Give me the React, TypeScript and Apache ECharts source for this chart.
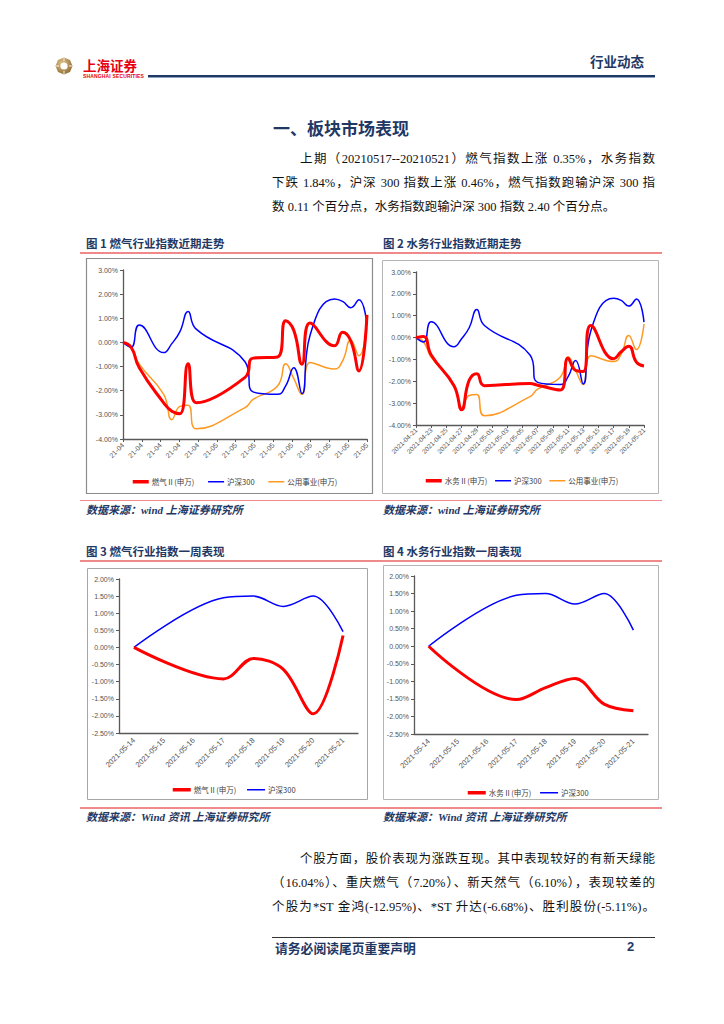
import React, { useEffect, useRef } from "react";
import * as echarts from "echarts";

// ---------- DATA ----------
// trading dates for figures 1 & 2
const longDates = [
  "2021-04-21", "2021-04-22", "2021-04-23", "2021-04-26", "2021-04-27", "2021-04-28", "2021-04-29", "2021-04-30",
  "2021-05-06", "2021-05-07", "2021-05-10", "2021-05-11", "2021-05-12", "2021-05-13", "2021-05-14",
  "2021-05-17", "2021-05-18", "2021-05-19", "2021-05-20", "2021-05-21",
];
const hs300Long = [0, -0.2, 0.72, -0.42, -0.05, 0.45, 1.28, 0.55, -0.8, -2.05, -2.15, -1.8, -1.05, -2.12, 0.3, 1.8, 1.7, 1.44, 1.77, 0.71];
const gasLong = [0, -0.2, -1.05, -2.5, -2.85, -2.95, -0.88, -2.5, -1.45, -0.65, -0.6, 0.9, 0.5, -0.9, 0.8, -0.14, 0.42, 0.07, -1.18, 1.14];
const utilLong = [0, -0.2, -0.9, -2.15, -3.2, -2.65, -2.6, -3.58, -2.7, -2.36, -1.8, -0.88, -1.5, -2.15, -0.83, -1.1, -0.76, 0.1, -0.55, 0.62];
const waterLong = [0, 0.05, -0.8, -2.2, -3.3, -1.95, -1.65, -2.2, -2.1, -2.18, -2.4, -0.95, -1.5, -1.55, 0.55, -0.97, -0.65, -0.4, -1.12, -1.3];

// figures 3 & 4
const weekDates = ["2021-05-14", "2021-05-15", "2021-05-16", "2021-05-17", "2021-05-18", "2021-05-19", "2021-05-20", "2021-05-21"];
const hs300Week = [0, null, null, 1.45, 1.5, 1.2, 1.5, 0.46];
const gasWeek = [0, null, null, -0.92, -0.32, -0.64, -1.94, 0.35];
const waterWeek = [0, null, null, -1.52, -1.18, -0.92, -1.65, -1.84];

const NAME_GAS = "燃气Ⅱ(申万)";
const NAME_WATER = "水务Ⅱ(申万)";
const NAME_HS = "沪深300";
const NAME_UTIL = "公用事业(申万)";

const RED = "#ff0000";
const BLUE = "#0000ff";
const ORANGE = "#ff9922";
const NAVY = "#1f3864";

// ---------- helpers ----------
const DAY = 86400000;
const t0 = Date.parse(longDates[0]);
const dayOffset = (d: string) => Math.round((Date.parse(d) - t0) / DAY);
const longX = longDates.map(dayOffset);
const pairs = (vals: number[]) => longX.map((x, i) => [x, vals[i]]);
const pad = (n: number) => (n < 10 ? "0" : "") + n;
const offsetToDate = (v: number) => new Date(t0 + Math.round(v) * DAY);
const fmtShort = (v: number) => {
  const d = offsetToDate(v);
  return String(d.getUTCFullYear()).slice(2) + "-" + pad(d.getUTCMonth() + 1);
};
const fmtLong = (v: number) => {
  const d = offsetToDate(v);
  return d.getUTCFullYear() + "-" + pad(d.getUTCMonth() + 1) + "-" + pad(d.getUTCDate());
};
const pct = (v: number) => v.toFixed(2) + "%";

const AXIS_FONT = "'Liberation Sans', Arial, sans-serif";
const axisLine = { lineStyle: { color: "#595959", width: 1.3 } };
const axisTick = { length: 3, lineStyle: { color: "#595959", width: 1 } };
const labelStyle = { fontSize: 7, color: "#555", fontFamily: AXIS_FONT };

function buildOption() {
  const grids = [
    { left: 123, top: 270, width: 244, height: 169 },
    { left: 416, top: 272, width: 228, height: 153 },
    { left: 119, top: 579, width: 239, height: 154 },
    { left: 414, top: 576, width: 234, height: 158 },
  ];
  const xAxis = [
    {
      gridIndex: 0, type: "value", min: 0, max: 30, interval: 30 / 13,
      axisLine: { ...axisLine, onZero: false }, axisTick, splitLine: { show: false },
      axisLabel: { ...labelStyle, rotate: 45, margin: 5, formatter: fmtShort, showMaxLabel: true },
    },
    {
      gridIndex: 1, type: "value", min: 0, max: 30, interval: 2,
      axisLine: { ...axisLine, onZero: false }, axisTick, splitLine: { show: false },
      axisLabel: { ...labelStyle, fontSize: 6.5, rotate: 45, margin: 4, formatter: fmtLong },
    },
    {
      gridIndex: 2, type: "category", data: weekDates, boundaryGap: true,
      axisLine: { ...axisLine, onZero: false }, axisTick, splitLine: { show: false },
      axisLabel: { ...labelStyle, fontSize: 7.5, rotate: 45, margin: 6, interval: 0 },
    },
    {
      gridIndex: 3, type: "category", data: weekDates, boundaryGap: true,
      axisLine: { ...axisLine, onZero: false }, axisTick, splitLine: { show: false },
      axisLabel: { ...labelStyle, fontSize: 7.5, rotate: 45, margin: 6, interval: 0 },
    },
  ];
  const yBase = { type: "value", axisLine: { ...axisLine, show: true }, axisTick: { ...axisTick, show: true }, splitLine: { show: false } };
  const yAxis = [
    { ...yBase, gridIndex: 0, min: -4, max: 3, interval: 1, axisLabel: { ...labelStyle, margin: 5, formatter: pct } },
    { ...yBase, gridIndex: 1, min: -4, max: 3, interval: 1, axisLabel: { ...labelStyle, margin: 5, formatter: pct } },
    { ...yBase, gridIndex: 2, min: -2.5, max: 2, interval: 0.5, axisLabel: { ...labelStyle, margin: 5, formatter: pct } },
    { ...yBase, gridIndex: 3, min: -2.5, max: 2, interval: 0.5, axisLabel: { ...labelStyle, margin: 5, formatter: pct } },
  ];
  const line = (name: string, xi: number, data: any[], color: string, width: number, extra: any = {}) => ({
    type: "line", name, xAxisIndex: xi, yAxisIndex: xi, data, smooth: true, symbol: "none",
    lineStyle: { color, width }, itemStyle: { color }, ...extra,
  });
  const wk = { connectNulls: true, smooth: 0.35 };
  const series = [
    line(NAME_UTIL, 0, pairs(utilLong), ORANGE, 1.5),
    line(NAME_HS, 0, pairs(hs300Long), BLUE, 1.5),
    line(NAME_GAS, 0, pairs(gasLong), RED, 3),
    line(NAME_UTIL, 1, pairs(utilLong), ORANGE, 1.5),
    line(NAME_HS, 1, pairs(hs300Long), BLUE, 1.5),
    line(NAME_WATER, 1, pairs(waterLong), RED, 3),
    line(NAME_HS, 2, hs300Week, BLUE, 1.5, wk),
    line(NAME_GAS, 2, gasWeek, RED, 3, wk),
    line(NAME_HS, 3, hs300Week, BLUE, 1.5, wk),
    line(NAME_WATER, 3, waterWeek, RED, 3, wk),
  ];
  const legendBase = {
    orient: "horizontal", itemWidth: 16, itemHeight: 8, selectedMode: false,
    textStyle: { fontSize: 7.5, color: "#404040", fontFamily: "'Noto Sans CJK SC', sans-serif", padding: [0, 0, 0, -2] },
    itemStyle: { opacity: 0, borderWidth: 0 },
  };
  const item = (name: string, w: number) => ({ name, lineStyle: { width: w } });
  const legend = [
    { ...legendBase, left: 126, top: 473, itemGap: 13, data: [item(NAME_GAS, 3.5), item(NAME_HS, 1.5), item(NAME_UTIL, 1.5)] },
    { ...legendBase, left: 419, top: 472, itemGap: 7, data: [item(NAME_WATER, 3.5), item(NAME_HS, 1.5), item(NAME_UTIL, 1.5)] },
    { ...legendBase, left: 166, top: 781, itemWidth: 18, itemGap: 10, data: [item(NAME_GAS, 3.5), item(NAME_HS, 1.5)] },
    { ...legendBase, left: 461, top: 784, itemWidth: 18, itemGap: 8, data: [item(NAME_WATER, 3.5), item(NAME_HS, 1.5)] },
  ];
  const box = (x: number, y: number, w: number, h: number, c: string, lw: number) => ({
    type: "rect", silent: true, z: -10, shape: { x, y, width: w, height: h },
    style: { fill: "none", stroke: c, lineWidth: lw },
  });
  const graphic = [
    box(86.5, 258.5, 286, 235, "#8c8c8c", 1.2),
    box(382.5, 260.5, 276, 233, "#b5b5b5", 1),
    box(87.5, 568.5, 280, 231, "#a6a6a6", 1),
    box(383.5, 565.5, 275, 234, "#b5b5b5", 1),
  ];
  return { animation: false, grid: grids, xAxis, yAxis, series, legend, graphic };
}

// ---------- page text ----------
const SERIF = "'Liberation Serif', 'Noto Sans CJK SC', serif";
const SANS = "'Noto Sans CJK SC', sans-serif";

type TP = {
  x: number; y: number; s: number; c?: string; w?: number | string; it?: boolean; ff?: string;
  width?: number; just?: boolean; children: React.ReactNode;
};
const T = ({ x, y, s, c = "#111", w = 400, it = false, ff = SERIF, width, just = false, children }: TP) => (
  <div
    lang="zh-CN"
    style={{
      position: "absolute", left: x, top: y - s * 0.7, height: s * 1.4, lineHeight: `${s * 1.4}px`,
      fontSize: s, color: c, fontWeight: w as any, fontStyle: it ? "italic" : "normal", fontFamily: ff,
      whiteSpace: "nowrap", width, textAlign: just ? "justify" : "left",
      textAlignLast: just ? "justify" : "auto", textJustify: "inter-character" as any,
    }}
  >
    {children}
  </div>
);

const HLine = ({ x, y, w, h, c }: { x: number; y: number; w: number; h: number; c: string }) => (
  <div style={{ position: "absolute", left: x, top: y, width: w, height: h, background: c }} />
);

const Logo = () => (
  <svg width={18} height={18} viewBox="0 0 18 18" style={{ position: "absolute", left: 55, top: 57 }}>
    <defs>
      <radialGradient id="lg" cx="40%" cy="35%" r="70%">
        <stop offset="0%" stopColor="#e2c48a" />
        <stop offset="100%" stopColor="#8c6a32" />
      </radialGradient>
    </defs>
    <polygon points="9,0.5 15,3 17.5,9 15,15 9,17.5 3,15 0.5,9 3,3" fill="url(#lg)" />
    <circle cx="9" cy="9" r="3.6" fill="#fff" />
    <g stroke="#fff" strokeWidth="0.9">
      <line x1="9" y1="1" x2="9" y2="4" />
      <line x1="9" y1="14" x2="9" y2="17" />
      <line x1="1" y1="9" x2="4" y2="9" />
      <line x1="14" y1="9" x2="17" y2="9" />
    </g>
  </svg>
);

export default function App() {
  const ref = useRef<HTMLDivElement>(null);
  useEffect(() => {
    if (!ref.current) return;
    const chart = echarts.init(ref.current, null, { renderer: "svg" });
    chart.setOption(buildOption() as any);
    return () => chart.dispose();
  }, []);

  const capStyle = { s: 11.5, c: NAVY, w: 700, ff: SANS };
  const srcStyle = { s: 11, c: NAVY, w: 700, it: true, ff: SERIF };

  return (
    <div style={{ position: "absolute", left: 0, top: 0, width: 724, height: 1024, background: "#fff", overflow: "hidden" }}>
      {/* header */}
      <Logo />
      <T x={83} y={65} s={13.5} c="#e60012" w={700} ff={SANS}>上海证券</T>
      <div style={{ position: "absolute", left: 83, top: 73.5, fontSize: 5, lineHeight: "5px", color: "#e60012", fontFamily: "'Liberation Sans', Arial", fontWeight: 700, letterSpacing: 0.15, whiteSpace: "nowrap" }}>
        SHANGHAI SECURITIES
      </div>
      <HLine x={148} y={75} w={507} h={2} c={NAVY} />
      <HLine x={148} y={77} w={507} h={1} c="#8ea3c4" />
      <T x={590} y={61} s={13.5} c={NAVY} w={700} ff={SANS}>行业动态</T>

      {/* section title */}
      <T x={273} y={128} s={17} c={NAVY} w={700} ff={SANS}>一、板块市场表现</T>

      {/* paragraph 1 */}
      <T x={300} y={160} s={12.5} width={355} just>上期（20210517--20210521）燃气指数上涨 0.35%，水务指数</T>
      <T x={272} y={184} s={12.5} width={383} just>下跌 1.84%，沪深 300 指数上涨 0.46%，燃气指数跑输沪深 300 指</T>
      <T x={272} y={208} s={12.5}>数 0.11 个百分点，水务指数跑输沪深 300 指数 2.40 个百分点。</T>

      {/* captions fig 1/2 */}
      <T x={86} y={243} {...capStyle}>图 1 燃气行业指数近期走势</T>
      <T x={383} y={243} {...capStyle}>图 2 水务行业指数近期走势</T>
      <HLine x={80} y={252} w={582} h={1.5} c="#f08a8a" />

      <HLine x={80} y={499.5} w={582} h={1.5} c="#f08a8a" />
      <T x={86} y={511} {...srcStyle}>数据来源：wind 上海证券研究所</T>
      <T x={383} y={511} {...srcStyle}>数据来源：wind 上海证券研究所</T>

      {/* captions fig 3/4 */}
      <T x={86} y={551} {...capStyle}>图 3 燃气行业指数一周表现</T>
      <T x={383} y={551} {...capStyle}>图 4 水务行业指数一周表现</T>
      <HLine x={80} y={560} w={582} h={1.5} c="#f08a8a" />

      <HLine x={80} y={807} w={582} h={1.5} c="#f08a8a" />
      <T x={86} y={818} {...srcStyle}>数据来源：Wind 资讯 上海证券研究所</T>
      <T x={383} y={818} {...srcStyle}>数据来源：Wind 资讯 上海证券研究所</T>

      {/* paragraph 2 */}
      <T x={300} y={860} s={12.5} width={355} just>个股方面，股价表现为涨跌互现。其中表现较好的有新天绿能</T>
      <T x={272} y={884} s={12.5} width={383} just>（16.04%）、重庆燃气（7.20%）、新天然气（6.10%），表现较差的</T>
      <T x={272} y={908} s={12.5} width={383} just>个股为*ST 金鸿(-12.95%)、*ST 升达(-6.68%)、胜利股份(-5.11%)。</T>

      {/* footer */}
      <HLine x={272} y={937} w={383} h={1} c="#333" />
      <T x={275} y={948} s={12.8} c={NAVY} w={700} ff={SANS}>请务必阅读尾页重要声明</T>
      <T x={627} y={947} s={13} c={NAVY} w={700} ff={"'Liberation Sans', Arial"}>2</T>

      {/* charts */}
      <div ref={ref} style={{ position: "absolute", left: 0, top: 0, width: 724, height: 1024 }} />
    </div>
  );
}
